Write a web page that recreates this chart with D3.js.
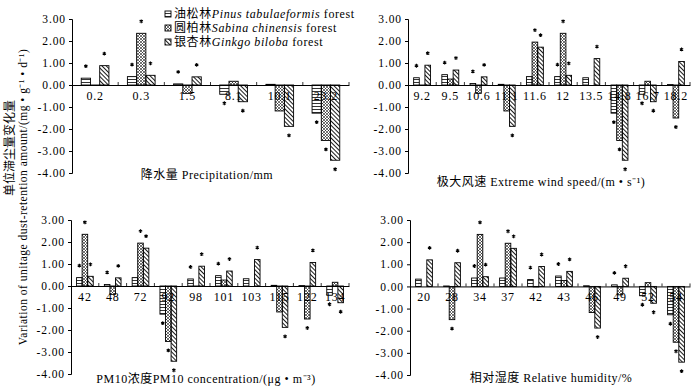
<!DOCTYPE html>
<html>
<head>
<meta charset="utf-8">
<script src="https://cdn.jsdelivr.net/npm/d3@7"></script>
<style>
  body { margin: 0; background: #fff; }
  svg { display: block; }
  text { font-family: "Liberation Serif", "Noto Sans CJK SC", serif; fill: #000; }
</style>
</head>
<body>
<script>
//Declare consts
const width = 700;
const height = 388;

//Data - series names and shared tick labels
const seriesCn = ["油松林", "圆柏林", "银杏林"];
const seriesLatin = ["Pinus tabulaeformis", "Sabina chinensis", "Ginkgo biloba"];
const yTicks = [3, 2, 1, 0, -1, -2, -3, -4];

//Precipitation
const precipCats = ["0.2", "0.3", "1.5", "8.1", "10.1", "23.2"];
const precipPinus = [0.31, 0.38, 0.05, -0.42, 0.03, -1.28];
const precipSabina = [-0.02, 2.35, -0.38, 0.17, -1.18, -2.52];
const precipGinkgo = [0.88, 0.44, 0.37, -0.76, -1.88, -3.42];
const precipSig = ["pg", "psg", "pg", "pg", "g", "psg"];

//Extreme wind speed
const windCats = ["9.2", "9.5", "10.6", "11.1", "11.6", "12", "13.5", "14.8", "16.7", "18.2"];
const windPinus = [0.33, 0.47, 0.07, 0.03, 0.38, 0.38, 0.33, -1.28, -0.42, 0.02];
const windSabina = [-0.02, 0.27, -0.38, -1.18, 1.95, 2.35, 0.0, -2.52, 0.17, -1.5];
const windGinkgo = [0.9, 0.68, 0.37, -1.88, 1.72, 0.44, 1.2, -3.42, -0.76, 1.07];
const windSig = ["pg", "pg", "pg", "g", "sg", "psg", "g", "psg", "pg", "sg"];

//PM10 concentration
const pmCats = ["42", "48", "72", "92", "98", "101", "103", "115", "122", "134"];
const pmPinus = [0.38, 0.07, 0.38, -1.28, 0.32, 0.47, 0.33, 0.03, 0.02, -0.42];
const pmSabina = [2.35, -0.38, 1.95, -2.52, -0.02, 0.27, 0.0, -1.18, -1.5, 0.17];
const pmGinkgo = [0.44, 0.37, 1.72, -3.42, 0.9, 0.68, 1.2, -1.88, 1.07, -0.76];
const pmSig = ["psg", "pg", "sg", "psg", "pg", "pg", "g", "g", "sg", "pg"];

//Relative humidity
const rhCats = ["20", "28", "34", "37", "42", "43", "46", "49", "52", "54"];
const rhPinus = [0.33, 0.02, 0.38, 0.38, 0.31, 0.47, 0.03, 0.07, -0.42, -1.28];
const rhSabina = [0.0, -1.5, 2.35, 1.95, -0.02, 0.27, -1.18, -0.38, 0.17, -2.52];
const rhGinkgo = [1.2, 1.07, 0.44, 1.72, 0.9, 0.68, -1.88, 0.37, -0.76, -3.42];
const rhSig = ["g", "sg", "psg", "sg", "pg", "pg", "g", "pg", "pg", "psg"];

//Panel layout
const panels = [
  { cats: precipCats, vals: [precipPinus, precipSabina, precipGinkgo], sig: precipSig,
    title: "降水量 Precipitation/mm", left: 72, right: 349, top: 19, bottom: 173, tx: 207, ty: 179 },
  { cats: windCats, vals: [windPinus, windSabina, windGinkgo], sig: windSig,
    title: "极大风速 Extreme wind speed/(m • s⁻¹)", left: 408, right: 690, top: 19, bottom: 173, tx: 541, ty: 186 },
  { cats: pmCats, vals: [pmPinus, pmSabina, pmGinkgo], sig: pmSig,
    title: "PM10浓度PM10 concentration/(μg • m⁻³)", left: 71, right: 349, top: 220, bottom: 374, tx: 206, ty: 383 },
  { cats: rhCats, vals: [rhPinus, rhSabina, rhGinkgo], sig: rhSig,
    title: "相对湿度 Relative humidity/%", left: 410, right: 690, top: 220, bottom: 375, tx: 551, ty: 382 }
];
const sigKeys = ["p", "s", "g"];

//SVG
const svg = d3.select("body")
  .append("svg")
  .attr("width", width)
  .attr("height", height);

//Patterns for the three forests
const defs = svg.append("defs");
const pHoriz = defs.append("pattern").attr("id", "pat0")
  .attr("patternUnits", "userSpaceOnUse").attr("width", 4).attr("height", 3);
pHoriz.append("path").attr("d", "M0,1.5H4").attr("stroke", "#000").attr("stroke-width", 0.8);

const pCross = defs.append("pattern").attr("id", "pat1")
  .attr("patternUnits", "userSpaceOnUse").attr("width", 3).attr("height", 3);
pCross.append("path").attr("d", "M0,0L3,3M3,0L0,3M-1,2L1,4M2,-1L4,1")
  .attr("stroke", "#000").attr("stroke-width", 0.55);

const pDiag = defs.append("pattern").attr("id", "pat2")
  .attr("patternUnits", "userSpaceOnUse").attr("width", 3).attr("height", 3)
  .attr("patternTransform", "rotate(-45)");
pDiag.append("path").attr("d", "M1.5,0V3").attr("stroke", "#000").attr("stroke-width", 0.9);

const starShape = d3.symbol().type(d3.symbolAsterisk || d3.symbolCross).size(10);

panels.forEach(p => {
  const g = svg.append("g");

  //Scales
  const xScale = d3.scaleBand()
    .domain(p.cats)
    .range([p.left, p.right])
    .paddingInner(0.4)
    .paddingOuter(0.2);

  const xInner = d3.scaleBand()
    .domain([0, 1, 2])
    .range([0, xScale.bandwidth()]);

  const yScale = d3.scaleLinear()
    .domain([-4, 3])
    .range([p.bottom, p.top]);

  const y0 = yScale(0);

  //Left axis
  const leftAxis = d3.axisLeft(yScale)
    .tickValues(yTicks)
    .tickFormat(d => d3.format(".2f")(d).replace("−", "-"))
    .tickSize(3)
    .tickPadding(3);

  g.append("g")
    .attr("transform", "translate(" + p.left + ",0)")
    .call(leftAxis)
    .call(a => a.select(".domain").attr("stroke", "#000"))
    .selectAll("text")
    .style("font-size", "11.5px")
    .style("letter-spacing", "0.9px")
    .style("font-family", "\"Liberation Serif\", serif");

  //Bottom axis at zero (labels drawn under the bars)
  const bottomAxis = d3.axisBottom(xScale)
    .tickSizeInner(0)
    .tickSizeOuter(0)
    .tickPadding(6);

  g.append("g")
    .attr("transform", "translate(0," + y0 + ")")
    .call(bottomAxis)
    .call(a => a.select(".domain").attr("stroke", "#000"))
    .selectAll("text")
    .style("font-size", "12px")
    .style("letter-spacing", "0.8px")
    .style("font-family", "\"Liberation Serif\", serif");

  //Category boundary ticks
  const step = xScale.step();
  g.selectAll(".btick")
    .data(d3.range(1, p.cats.length + 1))
    .enter()
    .append("line")
    .attr("x1", i => p.left + i * step)
    .attr("x2", i => p.left + i * step)
    .attr("y1", y0 - 3)
    .attr("y2", y0)
    .attr("stroke", "#000")
    .attr("stroke-width", 0.8);

  //Bars
  p.vals.forEach((vals, s) => {
    g.selectAll(".bar" + s)
      .data(p.cats)
      .enter()
      .append("rect")
      .attr("x", (c, i) => xScale(c) + xInner(s))
      .attr("y", (c, i) => yScale(Math.max(0, vals[i])))
      .attr("width", xInner.bandwidth())
      .attr("height", (c, i) => Math.abs(yScale(vals[i]) - y0))
      .attr("fill", "url(#pat" + s + ")")
      .attr("stroke", "#000")
      .attr("stroke-width", 0.9);

    //Significance stars
    g.selectAll(".star" + s)
      .data(p.cats.map((c, i) => ({ c, v: vals[i], on: p.sig[i].includes(sigKeys[s]) })).filter(d => d.on))
      .enter()
      .append("path")
      .attr("d", starShape)
      .attr("transform", d => "translate(" + (xScale(d.c) + xInner(s) + xInner.bandwidth() / 2) + "," +
        (d.v >= 0 ? yScale(d.v) - 12 : yScale(d.v) + 9) + ")")
      .attr("fill", "none")
      .attr("stroke", "#000")
      .attr("stroke-width", 1.1);
  });

  //Axis title
  g.append("text")
    .attr("x", p.tx)
    .attr("y", p.ty)
    .attr("text-anchor", "middle")
    .style("font-size", "12px")
    .style("letter-spacing", "0.5px")
    .text(p.title);
});

//Legend
const legend = svg.append("g");
seriesCn.forEach((name, s) => {
  const cy = 14 + s * 14;
  legend.append("rect")
    .attr("x", 165).attr("y", cy - 3)
    .attr("width", 6).attr("height", 6)
    .attr("fill", "url(#pat" + s + ")")
    .attr("stroke", "#000")
    .attr("stroke-width", 0.9);
  const t = legend.append("text")
    .attr("x", 174).attr("y", cy + 4)
    .style("font-size", "12px")
    .style("letter-spacing", "0.6px");
  t.append("tspan").text(name);
  t.append("tspan").style("font-style", "italic").text(seriesLatin[s]);
  t.append("tspan").text(" forest");
});

//Y axis title
svg.append("text")
  .attr("transform", "translate(14,148) rotate(-90)")
  .attr("text-anchor", "middle")
  .style("font-size", "12px")
  .text("单位滞尘量变化量");

svg.append("text")
  .attr("transform", "translate(27,197) rotate(-90)")
  .attr("text-anchor", "middle")
  .style("font-size", "11.5px")
  .style("letter-spacing", "0.5px")
  .text("Variation of unitage dust-retention amount/(mg • g⁻¹ • d⁻¹)");
</script>
</body>
</html>
